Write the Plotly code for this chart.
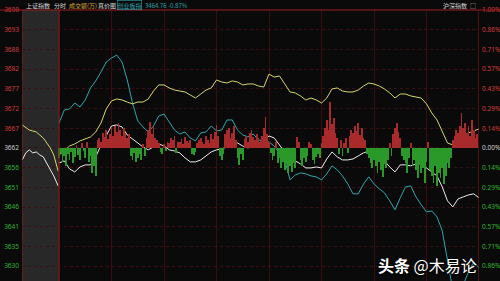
import plotly.graph_objects as go

# ---------------- data ----------------
# trading minutes after the open, sampled every 3 minutes (0 .. 240)
step_min = 3
# 上证指数 change in % vs previous close (white line)
sh_pct = [-0.109, -0.094, -0.152, -0.174, -0.138, -0.123, -0.123, -0.065, 0.022, 0.087,
          0.159, 0.167, 0.152, 0.094, 0.065, 0.036, 0.007, -0.014, 0.007, 0.029,
          0.014, -0.014, -0.022, -0.036, -0.072, -0.101, -0.101, -0.087, -0.058, -0.029,
          -0.014, -0.007, 0.007, 0.022, 0.036, 0.014, 0.000, 0.014, 0.036, 0.051,
          0.087, 0.072, 0.022, -0.022, -0.080, -0.094, -0.116, -0.145, -0.145, -0.138,
          -0.145, -0.080, -0.029, -0.065, -0.087, -0.087, -0.080, -0.058, -0.036, -0.022,
          -0.029, -0.058, -0.094, -0.138, -0.174, -0.123, -0.123, -0.130, -0.116, -0.116,
          -0.145, -0.174, -0.203, -0.283, -0.384, -0.428, -0.370, -0.355, -0.341, -0.333,
          -0.362]
# 沪深指数 (yellow line) change in %
hs_pct = [-0.051, -0.022, 0.014, 0.029, 0.051, 0.065, 0.080, 0.116, 0.181, 0.283,
          0.341, 0.355, 0.348, 0.333, 0.319, 0.333, 0.333, 0.355, 0.413, 0.457,
          0.457, 0.435, 0.420, 0.413, 0.406, 0.384, 0.362, 0.391, 0.420, 0.435,
          0.493, 0.478, 0.471, 0.486, 0.478, 0.457, 0.464, 0.464, 0.449, 0.442,
          0.536, 0.514, 0.522, 0.464, 0.406, 0.399, 0.377, 0.348, 0.362, 0.348,
          0.326, 0.362, 0.428, 0.435, 0.413, 0.406, 0.406, 0.420, 0.449, 0.471,
          0.464, 0.449, 0.428, 0.399, 0.362, 0.391, 0.391, 0.377, 0.370, 0.362,
          0.319, 0.254, 0.203, 0.116, 0.036, 0.022, 0.072, 0.094, 0.109, 0.123,
          0.138]
# 创业板指 overlay (cyan line) change in %
cy_pct = [0.181, 0.275, 0.283, 0.326, 0.297, 0.348, 0.435, 0.486, 0.551, 0.623,
          0.652, 0.674, 0.623, 0.493, 0.326, 0.196, 0.152, 0.116, 0.159, 0.232,
          0.246, 0.188, 0.130, 0.101, 0.116, 0.072, 0.051, 0.109, 0.116, 0.159,
          0.123, 0.130, 0.203, 0.203, 0.130, 0.094, 0.080, 0.101, 0.058, 0.051,
          0.043, 0.014, -0.043, -0.087, -0.232, -0.196, -0.181, -0.188, -0.203, -0.210,
          -0.232, -0.188, -0.130, -0.159, -0.203, -0.261, -0.333, -0.333, -0.261, -0.210,
          -0.261, -0.297, -0.326, -0.384, -0.449, -0.362, -0.283, -0.275, -0.355, -0.413,
          -0.464, -0.457, -0.500, -0.601, -0.826, -1.029, -1.043, -0.993, -0.899, -0.826,
          -0.870]
# call-auction period (minutes before the open)
pre_min = [-21, -19, -17, -15, -13, -11, -9, -7, -5, -3, -1.5, -0.5]
sh_pre = [-0.087, -0.036, -0.014, -0.036, -0.029, -0.051, -0.065, -0.109, -0.152, -0.203, -0.246, -0.275]
hs_pre = [0.167, 0.145, 0.130, 0.123, 0.116, 0.094, 0.072, 0.036, 0.000, -0.051, -0.116, -0.167]

# per-minute breadth bars (red up / green down)
breadth = [-10, -5, -14, -8, -18, -6, -12, -4, -15, -9,
           3, -7, -12, 5, -3, -10, 6, -14, -8, -25,
           -18, -28, 8, 10, 6, 15, 10, 18, 9, 14,
           20, 12, 22, 16, 25, 18, 12, 20, 15, 10,
           14, -8, -12, -5, -14, -10, -6, -12, 4, -8,
           10, 18, 26, 14, 22, 10, 8, 5, -4, -6,
           4, -3, 6, 5, 10, 8, 12, -5, 6, 6,
           9, 4, 11, 7, 5, 8, -6, -7, -4, 5,
           8, 10, 6, 4, 12, 8, 5, 14, 9, 16,
           23, 12, -8, -12, -6, 14, 18, 20, 10, 15,
           22, 8, -10, -17, -6, -12, 9, 12, 6, 15,
           18, 11, 8, 14, 10, 6, 12, 20, 31, 14,
           6, -5, -12, -8, 6, -15, -10, -20, -14, -22,
           -16, -25, -18, -24, -15, -20, 11, 6, -12, -18,
           -10, -14, -8, 6, 4, -12, -16, -9, -6, -10,
           5, 12, 20, 28, 18, 46, 24, 30, 15, 10,
           -6, 8, -8, 5, 10, -5, 12, 18, 15, 22,
           17, 25, 13, 20, 10, 8, -6, -10, -15, -20,
           -12, -18, -25, -14, -22, -29, -16, -20, -12, 5,
           -8, 14, 20, 25, 16, 10, -8, -12, -15, -25,
           -10, 5, -18, -12, -22, -30, -16, -25, -20, -35,
           -14, 6, -22, -28, -35, -18, -38, -25, -30, -20,
           -36, -28, -15, -20, -10, 8, 12, 18, 15, 22,
           35, 20, 25, 15, 22, 12, 28, 18, 10, 14]

# axis labels
pct_levels = [7, 6, 5, 4, 3, 2, 1, 0, -1, -2, -3, -4, -5, -6]   # in units of 1/7 %
price_labels = ["3698", "3693", "3688", "3682", "3677", "3672", "3667", "3662",
                "3656", "3651", "3646", "3641", "3635", "3630"]
pct_labels = ["1.00%", "0.86%", "0.71%", "0.57%", "0.43%", "0.29%", "0.14%", "0.00%",
              "0.14%", "0.29%", "0.43%", "0.57%", "0.71%", "0.86%"]

# ---------------- styling ----------------
RED_TXT = "#d43b3b"
GRN_TXT = "#2fb62f"
ZERO_TXT = "#cfcfcf"
BG = "#0a0a0a"
FONT = "Noto Sans CJK SC"
HDR = 6

times = [step_min * i for i in range(len(sh_pct))]
bar_x = list(range(len(breadth)))
bar_colors = ["#a82a2a" if v >= 0 else "#2a992a" for v in breadth]

def colored(labels):
    out = []
    for lv, t in zip(pct_levels, labels):
        c = RED_TXT if lv > 0 else (GRN_TXT if lv < 0 else ZERO_TXT)
        out.append(f'<span style="color:{c}">{t}</span>')
    return out

tickvals = [lv / 7 for lv in pct_levels]
y_range = [-0.9652, 1.0005]
x_range = [-21.14, 240]

fig = go.Figure()

fig.add_trace(go.Bar(x=bar_x, y=breadth, yaxis="y3", marker=dict(color=bar_colors, line=dict(width=0)),
                     width=0.42, hoverinfo="skip"))
fig.add_trace(go.Scatter(x=times, y=cy_pct, mode="lines", line=dict(color="#2ea6ad", width=1)))
fig.add_trace(go.Scatter(x=times, y=hs_pct, mode="lines", line=dict(color="#d6d66a", width=1)))
fig.add_trace(go.Scatter(x=times, y=sh_pct, mode="lines", line=dict(color="#ececec", width=1)))
fig.add_trace(go.Scatter(x=pre_min, y=hs_pre, mode="lines", line=dict(color="#d6d66a", width=1)))
fig.add_trace(go.Scatter(x=pre_min, y=sh_pre, mode="lines", line=dict(color="#ececec", width=1)))
# invisible trace for right axis
fig.add_trace(go.Scatter(x=[0], y=[0], yaxis="y2", mode="markers", marker=dict(opacity=0), hoverinfo="skip"))

shapes = [
    dict(type="rect", xref="x", yref="paper", x0=x_range[0], x1=0, y0=0, y1=1,
         fillcolor="#282828", line=dict(width=0), layer="below"),
    dict(type="line", xref="paper", yref="paper", x0=-0.05, x1=1.05, y0=1, y1=1,
         line=dict(color="#a11c1c", width=1)),
    dict(type="line", xref="x", yref="paper", x0=x_range[0], x1=x_range[0], y0=0, y1=1,
         line=dict(color="#8a1818", width=1)),
    dict(type="line", xref="x", yref="paper", x0=0, x1=0, y0=0, y1=1,
         line=dict(color="#8a1818", width=1)),
    dict(type="line", xref="x", yref="paper", x0=240, x1=240, y0=0, y1=1,
         line=dict(color="#8a1818", width=1)),
]

def px_x(px):
    return (px - 22) / 457

def px_y(py):
    return (281 - py) / 271

hdr_y = px_y(5)
annotations = [
    dict(text="上证指数", x=px_x(24), y=hdr_y, font=dict(color="#d8d8d8", size=HDR)),
    dict(text="分时", x=px_x(52), y=hdr_y, font=dict(color="#d8d8d8", size=HDR)),
    dict(text="成交额(万)", x=px_x(67), y=hdr_y, font=dict(color="#d9a732", size=HDR)),
    dict(text="真价图", x=px_x(96), y=hdr_y, font=dict(color="#d8d8d8", size=HDR)),
    dict(text="创业板指", x=px_x(117), y=hdr_y, font=dict(color="#2ea6ad", size=HDR),
         bordercolor="#2ea6ad", borderwidth=0.6, borderpad=0),
    dict(text="3464.76 -0.87%", x=px_x(143), y=hdr_y, font=dict(color="#2ea6ad", size=HDR)),
    dict(text="沪深指数", x=px_x(441), y=hdr_y, font=dict(color="#d8d8d8", size=HDR)),
    dict(text="□", x=px_x(468), y=hdr_y, font=dict(color="#bbbbbb", size=HDR)),
]
for a in annotations:
    a.update(xref="paper", yref="paper", xanchor="left", yanchor="middle", showarrow=False)
    a["font"]["family"] = FONT

annotations.append(dict(text="<b>头条</b> @木易论", xref="paper", yref="paper",
                        x=px_x(427), y=px_y(265), xanchor="center", yanchor="middle",
                        showarrow=False,
                        font=dict(family=FONT, size=16, color="#ffffff",
                                  shadow="1px 1px 2px #000000")))

fig.update_layout(
    width=500, height=281,
    margin=dict(l=22, r=21, t=10, b=0),
    paper_bgcolor=BG, plot_bgcolor=BG,
    showlegend=False, hovermode=False,
    bargap=0,
    xaxis=dict(range=x_range, showticklabels=False, ticks="", zeroline=False,
               showgrid=True, gridcolor="#3a0e0e", gridwidth=1, tick0=0, dtick=30,
               showline=False),
    yaxis=dict(range=y_range, tickvals=tickvals, ticktext=colored(price_labels),
               showgrid=True, gridcolor="#3c1010", griddash="dot", gridwidth=1,
               zeroline=False, ticks="", showline=False, ticklabelstandoff=2,
               tickfont=dict(family="Noto Sans", size=6.5)),
    yaxis2=dict(range=y_range, overlaying="y", side="right", tickvals=tickvals,
                ticktext=colored(pct_labels), showgrid=False, zeroline=False, ticks="",
                showline=False, ticklabelstandoff=2,
                tickfont=dict(family="Noto Sans", size=6.5)),
    yaxis3=dict(range=[-133, 138], overlaying="y", visible=False),
    shapes=shapes,
    annotations=annotations,
)

fig.write_html("out.html")
